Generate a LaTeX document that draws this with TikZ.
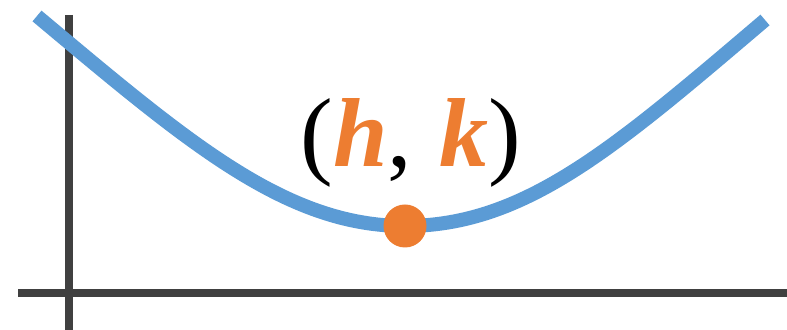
\documentclass[tikz,border=0pt]{standalone}
\usepackage{fontspec}
\setmainfont{Liberation Serif}
\definecolor{curveblue}{HTML}{5B9BD5}
\definecolor{dotorange}{HTML}{ED7D31}
\definecolor{axisgray}{HTML}{404040}
\begin{document}
\begin{tikzpicture}[x=0.5pt,y=-0.5pt,
  axisline/.style={draw=axisgray,line width=4pt},
  curveline/.style={draw=curveblue,line width=7pt},
  vertexdot/.style={circle,fill=dotorange,inner sep=0pt,minimum size=21.5pt},
  labeltext/.style={font=\fontsize{49}{58}\selectfont,inner sep=0pt,anchor=base}]
\useasboundingbox (0,0) rectangle (787,330);
% axes
\coordinate (ytop) at (68.5,15);
\coordinate (ybot) at (68.5,330);
\coordinate (xleft) at (18,293.5);
\coordinate (xright) at (787,293.5);
\draw[axisline] (ytop) -- (ybot);
\draw[axisline] (xleft) -- (xright);
% curve
\coordinate (cstart) at (37,16);
\coordinate (cvert) at (405,226);
\coordinate (cend) at (765,20);
\draw[curveline] (cstart) .. controls (187,141.5) and (285,226) .. (cvert)
  .. controls (525,226) and (615,147.5) .. (cend);
% vertex
\node[vertexdot] (vertex) at (cvert) {};
\node[labeltext] (label) at (411,167) {(\textcolor{dotorange}{\textbf{\textit{h}}},\;\textcolor{dotorange}{\textbf{\textit{k}}})};
\end{tikzpicture}
\end{document}
